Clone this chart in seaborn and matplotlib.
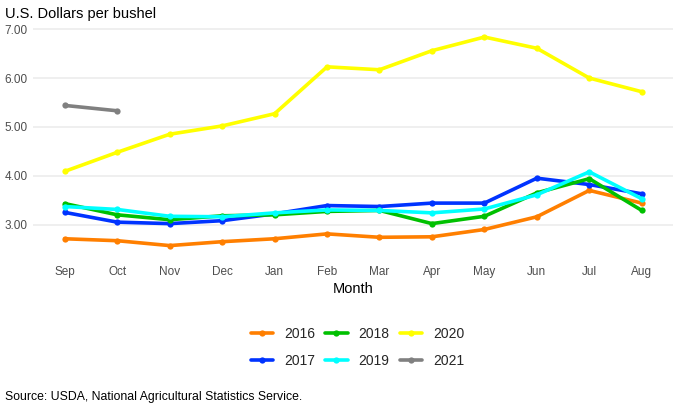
import matplotlib
matplotlib.use("Agg")
import matplotlib.pyplot as plt
import seaborn as sns
import pandas as pd

months = ["Sep", "Oct", "Nov", "Dec", "Jan", "Feb", "Mar", "Apr", "May", "Jun", "Jul", "Aug"]
y2016 = [2.71, 2.67, 2.57, 2.65, 2.71, 2.81, 2.74, 2.75, 2.90, 3.16, 3.70, 3.44]
y2017 = [3.25, 3.05, 3.02, 3.08, 3.22, 3.39, 3.37, 3.44, 3.44, 3.95, 3.82, 3.63]
y2018 = [3.43, 3.20, 3.10, 3.18, 3.20, 3.27, 3.29, 3.02, 3.17, 3.65, 3.94, 3.29]
y2019 = [3.37, 3.31, 3.17, 3.16, 3.24, 3.30, 3.29, 3.24, 3.32, 3.61, 4.08, 3.53]
y2020 = [4.09, 4.48, 4.85, 5.02, 5.27, 6.23, 6.17, 6.56, 6.84, 6.61, 6.00, 5.72]
y2021 = [5.44, 5.33]
years = ["2016", "2017", "2018", "2019", "2020", "2021"]
colors = ["#FF7F00", "#0033FF", "#00C000", "#00FFFF", "#FFFF00", "#808080"]

series = [y2016, y2017, y2018, y2019, y2020, y2021]
rows = []
for yr, vals in zip(years, series):
    for i, v in enumerate(vals):
        rows.append({"Month": months[i], "pos": i, "Year": yr, "Price": v})
df = pd.DataFrame(rows)

sns.set_theme(style="white")
plt.rcParams["font.family"] = ["Liberation Sans", "DejaVu Sans"]

fig = plt.figure(figsize=(6.8, 4.12), dpi=100)
ax = fig.add_axes([0.049, 0.379, 0.941, 0.556])

sns.lineplot(data=df, x="pos", y="Price", hue="Year", hue_order=years,
             palette=dict(zip(years, colors)), linewidth=2.6, marker="o",
             markersize=4.5, markeredgewidth=0, ax=ax, legend=True)

ax.set_xlim(-0.6, 11.6)
ax.set_ylim(2.36, 7.05)
ax.set_xticks(range(len(months)))
ax.set_xticklabels(months)
ax.set_yticks([3, 4, 5, 6, 7])
ax.set_yticklabels(["3.00", "4.00", "5.00", "6.00", "7.00"])
ax.tick_params(axis="both", labelsize=8.5, colors="#4D4D4D", length=0)
ax.tick_params(axis="x", pad=7)
ax.tick_params(axis="y", pad=4)
ax.grid(axis="y", color="#EBEBEB", linewidth=1.1)
ax.grid(axis="x", visible=False)
for s in ax.spines.values():
    s.set_visible(False)
ax.set_ylabel("")
ax.set_xlabel("Month", fontsize=10.5, color="black", labelpad=3.5)

handles, labels = ax.get_legend_handles_labels()
ax.get_legend().remove()
fig.legend(handles, labels, ncol=3, loc="center", bbox_to_anchor=(0.526, 0.157),
           frameon=False, fontsize=10, handlelength=1.6, columnspacing=0.72,
           labelspacing=0.95, handletextpad=0.8)

fig.text(0.007, 0.965, "U.S. Dollars per bushel", fontsize=10.5, color="black", va="center", ha="left")
fig.text(0.007, 0.036, "Source: USDA, National Agricultural Statistics Service.", fontsize=8.8,
         color="black", va="center", ha="left")

fig.savefig("out.png", dpi=100, facecolor="white")
